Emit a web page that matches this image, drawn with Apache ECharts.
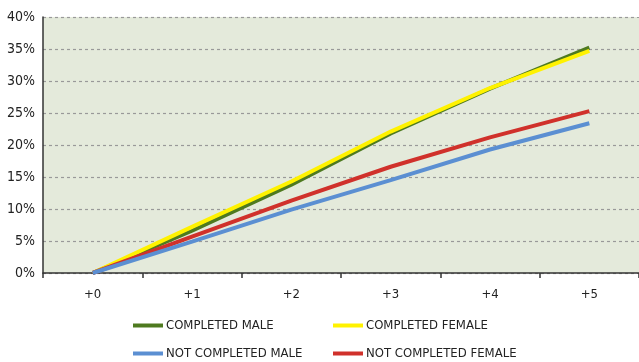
<!doctype html>
<html>
<head>
<meta charset="UTF-8">
<title>Chart</title>
<script src="https://cdn.jsdelivr.net/npm/echarts@6/dist/echarts.min.js"></script>
<style>
html, body { margin: 0; padding: 0; background: #fff; }
#main { width: 639px; height: 362px; }
</style>
</head>
<body>
<div id="main"></div>
<script>
var categories = ['+0', '+1', '+2', '+3', '+4', '+5'];
var seriesNames = ['COMPLETED MALE', 'COMPLETED FEMALE', 'NOT COMPLETED MALE', 'NOT COMPLETED FEMALE'];
var completedMale = [0, 6.6, 13.8, 21.8, 28.8, 35.2];
var completedFemale = [0, 7.2, 14.3, 22.1, 28.9, 34.7];
var notCompletedMale = [0, 4.9, 9.9, 14.5, 19.3, 23.4];
var notCompletedFemale = [0, 5.7, 11.3, 16.6, 21.2, 25.3];

var colors = ['#4e7a1f', '#fff200', '#5b8fd2', '#d0312b'];
var font = '"Liberation Sans Narrow", "DejaVu Sans Condensed", sans-serif';

function legendAt(name, left, top) {
	return {
		data: [name],
		left: left,
		top: top,
		icon: 'rect',
		itemWidth: 30,
		itemHeight: 4,
		itemGap: 0,
		textStyle: { fontFamily: font, fontSize: 13, color: '#222', padding: [0, 0, 0, -2] },
		selectedMode: false
	};
}

function lineSeries(name, data, color, z) {
	return {
		name: name,
		type: 'line',
		data: data,
		symbol: 'none',
		z: z,
		lineStyle: { width: 4, color: color },
		itemStyle: { color: color }
	};
}

var chart = echarts.init(document.getElementById('main'));
chart.setOption({
	animation: false,
	grid: {
		left: 43, top: 17, right: -6, bottom: 89,
		show: true, backgroundColor: '#e4eadb', borderWidth: 0
	},
	legend: [
		legendAt(seriesNames[0], 128, 314),
		legendAt(seriesNames[1], 328, 314),
		legendAt(seriesNames[2], 128, 342),
		legendAt(seriesNames[3], 328, 342)
	],
	xAxis: {
		type: 'category',
		data: categories,
		boundaryGap: true,
		axisLine: { lineStyle: { color: '#333', width: 1.5 } },
		axisTick: { show: true, length: 5, lineStyle: { color: '#333', width: 1.5 } },
		axisLabel: { margin: 15, fontFamily: font, fontSize: 13, color: '#222' },
		splitLine: { show: false }
	},
	yAxis: {
		type: 'value',
		min: 0, max: 40, interval: 5,
		axisLine: { show: true, lineStyle: { color: '#333', width: 1.5 } },
		axisTick: { show: false },
		axisLabel: { margin: 8, fontFamily: font, fontSize: 14, color: '#222', formatter: '{value}%' },
		splitLine: { lineStyle: { color: '#999', type: [3, 3], width: 1.2 } }
	},
	series: [
		lineSeries(seriesNames[0], completedMale, colors[0], 2),
		lineSeries(seriesNames[1], completedFemale, colors[1], 3),
		lineSeries(seriesNames[3], notCompletedFemale, colors[3], 4),
		lineSeries(seriesNames[2], notCompletedMale, colors[2], 5)
	]
});
</script>
</body>
</html>
